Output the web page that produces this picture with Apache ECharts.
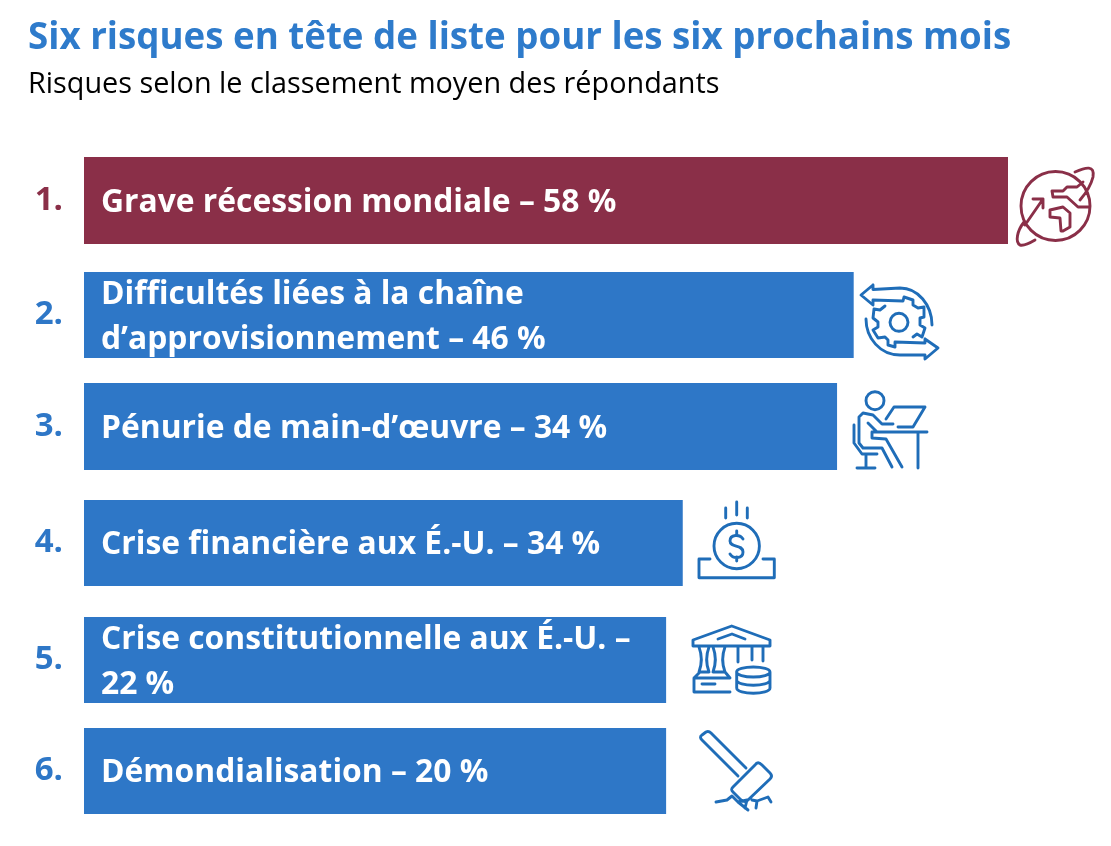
<!DOCTYPE html>
<html>
<head>
    <meta charset="utf-8">
    <title>Six risques en tête de liste</title>
    <script src="https://cdn.jsdelivr.net/npm/echarts@6/dist/echarts.min.js"></script>
    <style>
        html, body { margin: 0; background: #fff; }
        #chart { width: 1111px; height: 846px; }
    </style>
</head>
<body>
    <div id="chart"></div>

    <script>
    const ranks = ["1.", "2.", "3.", "4.", "5.", "6."];
    const riskNames = [
        "Grave récession mondiale",
        "Difficultés liées à la chaîne\nd’approvisionnement",
        "Pénurie de main-d’œuvre",
        "Crise financière aux É.-U.",
        "Crise constitutionnelle aux É.-U.",
        "Démondialisation"
    ];
    const shares = [58, 46, 34, 34, 22, 20];
    // bars of the picture are not proportional to the shares: length in % of the longest bar
    const barLengths = [100, 83.3, 81.5, 64.8, 63, 63];

    // layout, rows are not evenly spaced
    const rowTops = [157, 272, 383, 500, 617, 728];
    const rowHeights = [87, 86, 87, 86, 86, 86];
    const rankLift = [2, 6, 2, 6, 8, 6];
    const WINE = "#8a2f48";
    const BLUE = "#2e77c7";
    const ICON_BLUE = "#1f6db8";
    const FONT = '"Open Sans", "Noto Sans", sans-serif';

    // line icons, drawn in page pixels
    const iconPaths = [
        // globe
        "M1090,206a34.5,34.5 0 1 1 -69,0a34.5,34.5 0 1 1 69,0Z" +
        "M1075,172C1086,167 1095,165 1093,177C1091,185 1087,192 1080,200" +
        "M1024,222C1017,231 1015,242 1020,245C1024,246 1030,243 1035,240" +
        "M1025,225L1043,199M1033,199L1043,199L1043,208" +
        "M1089,207L1078,207L1067,197L1053,197L1052,191L1063,191L1067,187L1077,187L1083,182" +
        "M1050,210L1063,207L1070,213L1070,227L1063,231L1061,231L1060,218L1050,217Z",
        // gear with two arrows
        "M873,289.5L900,288C918,288 932,305 932,325M873,300L903,301" +
        "M873,285L861,295L873,305L873,300M873,289.5L873,285" +
        "M925,355L900,355C880,355 866,338 866,319M925,343L895,342" +
        "M925,339L938,348L925,359L925,355M925,343L925,339" +
        "M903,301L904,297L913,300L913,305L918,308L924,307L924,317L920,318L920,325L925,328L922,337L917,334L913,337" +
        "M885,306L880,310L874,309L873,318L878,322L878,327L873,330L878,338L885,337L888,340L888,345L895,347L895,342" +
        "M908,322.3a9,9 0 1 1 -18,0a9,9 0 1 1 18,0Z",
        // person at a desk
        "M884,400.7a9,9 0 1 1 -18,0a9,9 0 1 1 18,0Z" +
        "M886,419L894,407L925,407L913,427L898,427M872,432L927,432M918,432L918,468" +
        "M893,424L882,424L873,415L863,413L859,417L859,443L863,448L882,448L892,467" +
        "M872,432L872,438L886,439L902,467M868,423L877,432" +
        "M854,425L854,443L862,454L877,454M866,454L866,468M857,468L875,468",
        // coin dropping in a tray
        "M759.4,546a22.7,22.7 0 1 1 -45.4,0a22.7,22.7 0 1 1 45.4,0Z" +
        "M725.7,508L725.7,518M736.7,502L736.7,515M747.3,508L747.3,518" +
        "M710,559L699,559L699,577.7L774.3,577.7L774.3,559L763,559" +
        "M736.7,531L736.7,535M736.7,557L736.7,561" +
        "M743,539C740,534 730,534 730,541C730,548 743,544 743,552C743,559 733,559 730,554",
        // bank and stack of coins
        "M693,640L693,646L770,646L770,640L731.7,626Z M718,639L732,634L745,639" +
        "M699,647C702,655 702,664 699,672M709,647C706,655 706,664 709,672" +
        "M713,647C716,655 716,664 713,672M725,647C722,655 722,664 725,672" +
        "M738,647L738,662M752,647L752,660M763,647L763,661" +
        "M730,678L694,678L694,692L730,692M702,684L715,684M694,678L700,672L709,672M713,672L725,672L730,678" +
        "M770,672a16.7,5 0 1 1 -33.4,0a16.7,5 0 1 1 33.4,0Z" +
        "M736.7,672L736.7,688C736.7,695 770,695 770,688L770,672" +
        "M736.7,680C736.7,687 770,687 770,680",
        // hammer breaking the ground
        "M733,787C731,789 731,790 733,792L741,800C744,802 746,802 748,800L770,779C772,777 772,775 770,773L762,765C759,762 757,762 755,765Z" +
        "M738,776L702,740C700,738 700,736 702,735L706,732C708,731 709,731 711,733L746,768" +
        "M716,802L727,800L732,796L738,802L747,800L745,808M738,802L748,810" +
        "M756,808L757,801L768,797L771,802M752,800L757,801"
    ];
    const iconColors = [WINE, ICON_BLUE, ICON_BLUE, ICON_BLUE, ICON_BLUE, ICON_BLUE];

    function rowColor(i) {
        return i === 0 ? WINE : BLUE;
    }

    function barLabel(i) {
        // the fifth label breaks right after the dash
        const sep = i === 4 ? " –\n" : " – ";
        return riskNames[i] + sep + shares[i] + " %";
    }

    const chart = echarts.init(document.getElementById("chart"));

    chart.setOption({
        animation: false,
        title: {
            left: 23,
            top: 15,
            text: "Six risques en tête de liste pour les six prochains mois",
            subtext: "Risques selon le classement moyen des répondants",
            itemGap: 13,
            textStyle: { color: "#2e7bcb", fontFamily: FONT, fontWeight: "bold", fontSize: 36.7 },
            subtextStyle: { color: "#000", fontFamily: FONT, fontSize: 28.8 }
        },
        grid: rowTops.map((top, i) => ({ left: 84, width: 924, top: top, height: rowHeights[i] })),
        xAxis: rowTops.map((_, i) => ({ type: "value", gridIndex: i, min: 0, max: 100, show: false })),
        yAxis: rowTops.map((_, i) => ({
            type: "category",
            gridIndex: i,
            data: [ranks[i]],
            axisLine: { show: false },
            axisTick: { show: false },
            axisLabel: {
                margin: 21,
                color: rowColor(i),
                fontFamily: FONT,
                fontWeight: "bold",
                fontSize: 33,
                padding: [0, 0, rankLift[i] * 2, 0]
            }
        })),
        series: [
            ...rowTops.map((_, i) => ({
                type: "bar",
                xAxisIndex: i,
                yAxisIndex: i,
                barWidth: "100%",
                silent: true,
                data: [{ value: barLengths[i], itemStyle: { color: rowColor(i) } }],
                label: {
                    show: true,
                    position: "insideLeft",
                    distance: 17,
                    offset: [0, 2],
                    formatter: () => barLabel(i),
                    color: "#fff",
                    fontFamily: FONT,
                    fontWeight: "bold",
                    fontSize: 31.8,
                    lineHeight: 45
                }
            })),
            {
                type: "custom",
                coordinateSystem: "none",
                silent: true,
                data: iconPaths.map((_, i) => [i]),
                renderItem: (params) => ({
                    type: "path",
                    shape: { pathData: iconPaths[params.dataIndex] },
                    style: {
                        fill: "none",
                        stroke: iconColors[params.dataIndex],
                        lineWidth: 2.9,
                        lineCap: "round",
                        lineJoin: "round"
                    }
                })
            }
        ]
    });

    window.addEventListener("resize", function() {
        chart.resize();
    });
    </script>
</body>
</html>
